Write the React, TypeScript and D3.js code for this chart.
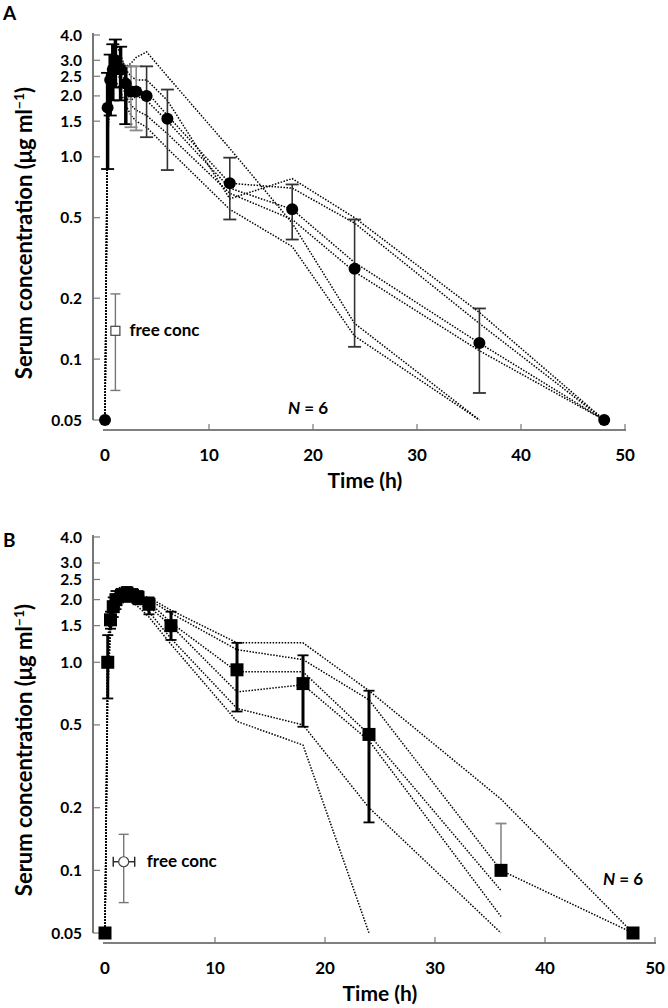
import * as d3 from 'd3';

// sampling times (h)
const TIMES = [0, 0.25, 0.5, 0.75, 1, 1.5, 2, 2.5, 3, 4, 6, 12, 18, 24, 36, 48];

// Panel A: mean +/- SD and the six subjects
const MEAN_A = [0.05, 1.75, 2.4, 2.7, 3.0, 2.7, 2.3, 2.1, 2.1, 2.0, 1.54, 0.74, 0.55, 0.28, 0.12, 0.05];
const LOW_A = [null, 0.87, 1.6, 1.9, 2.2, 1.9, 1.45, 1.4, 1.35, 1.25, 0.86, 0.49, 0.39, 0.115, 0.068, null];
const HIGH_A = [null, 2.6, 3.2, 3.6, 3.8, 3.5, 2.8, 2.8, 2.8, 2.8, 2.15, 0.99, 0.73, 0.49, 0.178, null];
const SUBJECTS_A = [
  [0.05, 1.2, 2.0, 2.6, 3.1, 3.0, 2.8, 2.9, 3.1, 3.3, 2.5, 1.1, 0.47, 0.15, 0.05, null],
  [0.05, 2.2, 3.0, 3.4, 3.7, 3.2, 2.7, 2.5, 2.4, 2.4, 1.9, 0.62, 0.78, 0.5, 0.17, 0.05],
  [0.05, 1.9, 2.6, 3.0, 3.2, 2.8, 2.3, 2.1, 2.1, 2.1, 1.6, 0.74, 0.7, 0.47, 0.15, 0.05],
  [0.05, 1.5, 2.3, 2.7, 2.9, 2.5, 2.1, 1.9, 2.0, 1.9, 1.5, 0.7, 0.55, 0.3, 0.12, 0.05],
  [0.05, 2.0, 2.5, 2.6, 2.7, 2.4, 2.0, 1.8, 1.7, 1.6, 1.3, 0.66, 0.49, 0.27, 0.11, 0.05],
  [0.05, 1.7, 2.1, 2.3, 2.4, 2.1, 1.8, 1.6, 1.5, 1.4, 1.1, 0.55, 0.36, 0.13, 0.05, null],
];
const FREE_A = { t: 1, tLo: null, tHi: null, mean: 0.138, lo: 0.07, hi: 0.21 };

// Panel B
const MEAN_B = [0.05, 1.0, 1.6, 1.85, 2.0, 2.1, 2.15, 2.1, 2.05, 1.9, 1.5, 0.92, 0.79, 0.45, 0.1, 0.05];
const LOW_B = [null, 0.67, 1.45, 1.65, 1.8, 1.95, 2.0, 1.95, 1.9, 1.7, 1.28, 0.58, 0.49, 0.17, null, null];
const HIGH_B = [null, 1.35, 1.75, 2.05, 2.2, 2.25, 2.3, 2.25, 2.2, 2.05, 1.75, 1.24, 1.08, 0.73, 0.168, null];
const SUBJECTS_B = [
  [0.05, 1.3, 1.75, 2.1, 2.25, 2.3, 2.3, 2.2, 2.1, 2.05, 1.78, 1.24, 1.24, 0.73, 0.22, 0.05],
  [0.05, 1.2, 1.7, 2.0, 2.2, 2.25, 2.2, 2.15, 2.1, 2.0, 1.72, 1.15, 1.03, 0.66, 0.1, 0.05],
  [0.05, 1.0, 1.6, 1.9, 2.0, 2.1, 2.15, 2.1, 2.05, 1.95, 1.55, 0.9, 0.9, 0.45, 0.08, null],
  [0.05, 0.9, 1.5, 1.8, 1.95, 2.05, 2.1, 2.05, 2.0, 1.85, 1.5, 0.72, 0.78, 0.42, 0.06, null],
  [0.05, 0.8, 1.45, 1.7, 1.85, 2.0, 2.05, 2.0, 1.95, 1.75, 1.3, 0.6, 0.5, 0.2, 0.05, null],
  [0.05, 0.7, 1.4, 1.6, 1.75, 1.9, 2.0, 1.95, 1.85, 1.65, 1.22, 0.52, 0.4, 0.05, null, null],
];
const FREE_B = { t: 1.7, tLo: 0.75, tHi: 2.7, mean: 0.11, lo: 0.07, hi: 0.149 };

const Y_TICKS = [4.0, 3.0, 2.5, 2.0, 1.5, 1.0, 0.5, 0.2, 0.1, 0.05];
const Y_TICK_LABELS = ['4.0', '3.0', '2.5', '2.0', '1.5', '1.0', '0.5', '0.2', '0.1', '0.05'];
const X_TICKS = [0, 10, 20, 30, 40, 50];

const FONT = "Lato, 'Open Sans', sans-serif";

type PanelProps = {
  letter: string;
  letterY: number;
  means: number[];
  lows: (number | null)[];
  highs: (number | null)[];
  subjects: (number | null)[][];
  free: { t: number; tLo: number | null; tHi: number | null; mean: number; lo: number; hi: number };
  xRange: [number, number];
  yRange: [number, number];
  axisY: number;
  labelMid: number;
  marker: 'circle' | 'square';
  greyBars: number[];
  heavyBars: number[];
  barWidth: number;
  barColor: string;
  nPos: [number, number];
};

function Panel(p: PanelProps) {
  const x = d3.scaleLinear().domain([0, 50]).range(p.xRange);
  const y = d3.scaleLog().domain([4, 0.05]).range(p.yRange);
  const line = d3
    .line<number | null>()
    .defined((d) => d !== null)
    .x((_, i) => x(TIMES[i]))
    .y((d) => y(d as number));
  const axisX = 93;
  const cap = p.marker === 'circle' ? 6.5 : 5.5;

  return (
    <g fontFamily={FONT}>
      <text x={3} y={p.letterY} fontSize={19} fontWeight={700}>{p.letter}</text>

      {/* axes */}
      <line x1={axisX} x2={axisX} y1={p.yRange[0] - 2} y2={p.yRange[1]} stroke="#555" strokeWidth={1.6} />
      {Y_TICKS.map((v, i) => (
        <g key={v}>
          <line x1={axisX} x2={axisX + 7} y1={y(v)} y2={y(v)} stroke="#777" strokeWidth={1.2} />
          <text x={82} y={y(v) + 5.5} textAnchor="end" fontSize={15.5} fontWeight={700}>{Y_TICK_LABELS[i]}</text>
        </g>
      ))}
      <line x1={x(0) - 2} x2={x(50) + 1} y1={p.axisY} y2={p.axisY} stroke="#555" strokeWidth={1.6} />
      {X_TICKS.map((v) => (
        <g key={v}>
          {v > 0 && <line x1={x(v)} x2={x(v)} y1={p.axisY} y2={p.axisY - 6} stroke="#777" strokeWidth={1.2} />}
          <text x={x(v)} y={p.axisY + 31} textAnchor="middle" fontSize={17} fontWeight={700}>{v}</text>
        </g>
      ))}
      <text x={(p.xRange[0] + p.xRange[1]) / 2} y={p.axisY + 58} textAnchor="middle" fontSize={21} fontWeight={700}>Time (h)</text>
      <text transform={`translate(32,${p.labelMid}) rotate(-90)`} textAnchor="middle" fontSize={22} fontWeight={700}>
        Serum concentration (μg ml<tspan dy={-8} fontSize={14}>−1</tspan><tspan dy={8}>)</tspan>
      </text>

      {/* individual subjects */}
      {p.subjects.map((s, i) => (
        <path key={i} d={line(s) || ''} fill="none" stroke="#000" strokeWidth={1.5} strokeDasharray="1.5 1.5" />
      ))}

      {/* SD bars */}
      {TIMES.map((t, i) => {
        const lo = p.lows[i];
        const hi = p.highs[i];
        if (lo === null && hi === null) return null;
        const grey = p.greyBars.includes(t) || lo === null;
        const heavy = p.heavyBars.includes(t);
        const col = grey ? '#888' : heavy ? '#000' : p.barColor;
        const w = grey ? 1.6 : heavy ? 3.5 : p.barWidth;
        const top = y(hi ?? p.means[i]);
        const bot = y(lo ?? p.means[i]);
        return (
          <g key={t} stroke={col} strokeWidth={w}>
            <line x1={x(t)} x2={x(t)} y1={top} y2={bot} />
            {hi !== null && <line x1={x(t) - cap} x2={x(t) + cap} y1={top} y2={top} strokeWidth={1.8} />}
            {lo !== null && <line x1={x(t) - cap} x2={x(t) + cap} y1={bot} y2={bot} strokeWidth={1.8} />}
          </g>
        );
      })}

      {/* means */}
      {TIMES.map((t, i) =>
        p.marker === 'circle' ? (
          <circle key={t} cx={x(t)} cy={y(p.means[i])} r={6} fill="#000" />
        ) : (
          <rect key={t} x={x(t) - 6.5} y={y(p.means[i]) - 6.5} width={13} height={13} fill="#000" />
        )
      )}

      {/* free concentration */}
      <g stroke="#777" strokeWidth={1.4}>
        <line x1={x(p.free.t)} x2={x(p.free.t)} y1={y(p.free.hi)} y2={y(p.free.lo)} />
        <line x1={x(p.free.t) - 5} x2={x(p.free.t) + 5} y1={y(p.free.hi)} y2={y(p.free.hi)} />
        <line x1={x(p.free.t) - 5} x2={x(p.free.t) + 5} y1={y(p.free.lo)} y2={y(p.free.lo)} />
      </g>
      {p.free.tLo !== null && p.free.tHi !== null && (
        <g stroke="#222" strokeWidth={1.4}>
          <line x1={x(p.free.tLo)} x2={x(p.free.tHi)} y1={y(p.free.mean)} y2={y(p.free.mean)} />
          <line x1={x(p.free.tLo)} x2={x(p.free.tLo)} y1={y(p.free.mean) - 5} y2={y(p.free.mean) + 5} />
          <line x1={x(p.free.tHi)} x2={x(p.free.tHi)} y1={y(p.free.mean) - 5} y2={y(p.free.mean) + 5} />
        </g>
      )}
      {p.marker === 'circle' ? (
        <rect x={x(p.free.t) - 4.5} y={y(p.free.mean) - 4.5} width={9} height={9} fill="#fff" stroke="#444" strokeWidth={1.2} />
      ) : (
        <circle cx={x(p.free.t)} cy={y(p.free.mean)} r={5} fill="#fff" stroke="#444" strokeWidth={1.2} />
      )}
      <text x={x(p.free.t) + (p.marker === 'circle' ? 14 : 23)} y={y(p.free.mean) + 5} fontSize={17} fontWeight={700}>free conc</text>

      <text x={p.nPos[0]} y={p.nPos[1]} textAnchor="middle" fontSize={17} fontWeight={700}>
        <tspan fontStyle="italic">N</tspan> = 6
      </text>
    </g>
  );
}

export default function App() {
  return (
    <svg width={668} height={1008} style={{ position: 'absolute', left: 0, top: 0, background: '#fff' }}>
      <rect width={668} height={1008} fill="#fff" />
      <Panel
        letter="A"
        letterY={20}
        means={MEAN_A}
        lows={LOW_A}
        highs={HIGH_A}
        subjects={SUBJECTS_A}
        free={FREE_A}
        xRange={[105, 625]}
        yRange={[35, 420]}
        axisY={430}
        labelMid={233}
        marker="circle"
        greyBars={[2.5, 3]}
        heavyBars={[0.25, 0.5, 0.75, 1, 1.5, 2]}
        barWidth={1.6}
        barColor="#333"
        nPos={[308, 414]}
      />
      <Panel
        letter="B"
        letterY={547}
        means={MEAN_B}
        lows={LOW_B}
        highs={HIGH_B}
        subjects={SUBJECTS_B}
        free={FREE_B}
        xRange={[105, 655]}
        yRange={[537, 933]}
        axisY={943}
        labelMid={750}
        marker="square"
        greyBars={[]}
        heavyBars={[]}
        barWidth={3}
        barColor="#000"
        nPos={[623, 885]}
      />
    </svg>
  );
}
